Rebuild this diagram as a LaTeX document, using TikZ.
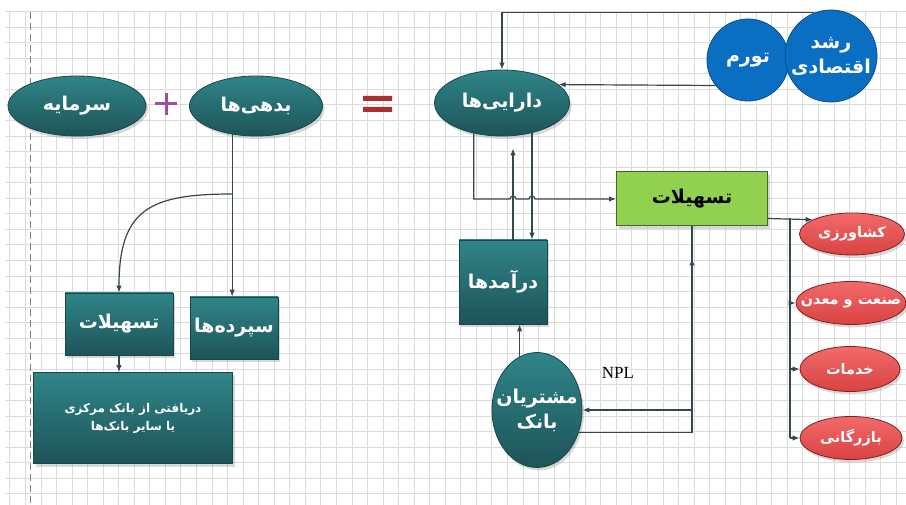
\documentclass[tikz,border=0pt]{standalone}
\usepackage{fontspec}
\setmainfont{Liberation Serif}
\newfontfamily\farsi[Script=Arabic]{DejaVu Sans}
\usetikzlibrary{positioning,shapes.geometric,arrows.meta,calc,shadows}
\TeXXeTstate=1
\newcommand{\pers}[1]{{\farsi\beginR #1\endR}}
\definecolor{gridgray}{HTML}{DCDCDC}
\definecolor{linkgray}{HTML}{34474F}
\definecolor{tealtop}{HTML}{2F8589}
\definecolor{tealbot}{HTML}{1E5458}
\definecolor{tealedge}{HTML}{17474A}
\definecolor{bluefill}{HTML}{0A6FC2}
\definecolor{blueedge}{HTML}{0B4F8A}
\definecolor{greenfill}{HTML}{92D050}
\definecolor{greenedge}{HTML}{44662A}
\definecolor{redtop}{HTML}{F26A6A}
\definecolor{redbot}{HTML}{D94242}
\definecolor{rededge}{HTML}{7F2020}
\definecolor{plusviolet}{HTML}{A0509A}
\definecolor{eqred}{HTML}{A8302E}
\tikzset{
	gridline/.style={draw=gridgray,line width=0.6pt},
	plainlink/.style={draw=linkgray,line width=1.2pt},
	link/.style={plainlink,-{Latex[length=7pt,width=5.5pt]}},
	shade/.style={drop shadow={opacity=0.3,shadow xshift=2pt,shadow yshift=-3pt}},
	tealoval/.style={ellipse,draw=tealedge,line width=0.8pt,top color=tealtop,bottom color=tealbot,text=white,shade,inner xsep=-12pt,inner ysep=0pt,font=\farsi\bfseries\fontsize{19}{25}\selectfont},
	tealbox/.style={rectangle,draw=tealedge,line width=0.8pt,top color=tealtop,bottom color=tealbot,text=white,shade,inner sep=0pt,font=\farsi\bfseries\fontsize{19}{24}\selectfont},
	bluecircle/.style={circle,draw=blueedge,line width=0.8pt,fill=bluefill,text=white,inner sep=-5pt,font=\farsi\bfseries\fontsize{19}{25}\selectfont},
	greenbox/.style={rectangle,draw=greenedge,line width=1pt,fill=greenfill,text=black,shade,inner sep=0pt,font=\farsi\bfseries\fontsize{19}{24}\selectfont},
	redoval/.style={ellipse,draw=rededge,line width=0.8pt,top color=redtop,bottom color=redbot,text=white,shade,inner xsep=-26pt,inner ysep=0pt,font=\farsi\bfseries\fontsize{14.5}{18}\selectfont}
}
\begin{document}
\begin{tikzpicture}[x=1pt,y=-1pt]
		\useasboundingbox (0,0) rectangle (906,505);
		\fill[white] (0,0) rectangle (906,505);
		\foreach \i in {0,...,57}
		\draw[gridline] (9.7+15.55*\i,11.5) -- (9.7+15.55*\i,505);
		\foreach \j in {0,...,31}
		\draw[gridline] (5,11.5+15.55*\j) -- (906,11.5+15.55*\j);
		\draw[gray,line width=0.8pt,dash pattern=on 7pt off 4pt] (30,12) -- (30,505);
		\node[tealoval,minimum width=138pt,minimum height=60pt] (capital) at (77,106) {\pers{سرمایه}};
		\node[tealoval,minimum width=133pt,minimum height=60pt] (debts) at (256,106) {\pers{بدهی‌ها}};
		\node[tealoval,minimum width=135pt,minimum height=66pt] (assets) at (502,103) {\pers{دارایی‌ها}};
		\draw[plusviolet,line width=3pt] (155,104) -- (177,104) (166,93) -- (166,115);
		\fill[eqred] (363,96) rectangle (392,101) (363,107) rectangle (392,112);
		\node[tealbox,minimum width=108pt,minimum height=62pt] (loansL) at (119,324) {\pers{تسهیلات}};
		\node[tealbox,minimum width=88pt,minimum height=62pt] (deposits) at (234,328) {\pers{سپرده‌ها}};
		\node[tealbox,minimum width=199pt,minimum height=91pt,align=center,font=\farsi\bfseries\fontsize{12}{18}\selectfont] (central) at (133,418) {\pers{دریافتی از بانک مرکزی}\\\pers{یا سایر بانک‌ها}};
		\node[tealbox,minimum width=88pt,minimum height=84pt] (income) at (503,282) {\pers{درآمدها}};
		\node[tealoval,minimum width=90pt,minimum height=115pt,align=center] (customers) at (537,410) {\pers{مشتریان}\\\pers{بانک}};
		\node[greenbox,minimum width=151pt,minimum height=54pt] (loansG) at (692,199) {\pers{تسهیلات}};
		\node[bluecircle,minimum size=82pt] (inflation) at (748,60) {\pers{تورم}};
		\node[bluecircle,minimum size=92pt,align=center] (growth) at (831,56) {\pers{رشد}\\\pers{اقتصادی}};
		\node[redoval,minimum width=105pt,minimum height=42pt] (agri) at (852,234) {\pers{کشاورزی}};
		\node[redoval,minimum width=110pt,minimum height=43pt] (industry) at (851,303) {\pers{صنعت و معدن}};
		\node[redoval,minimum width=100pt,minimum height=45pt] (services) at (850,369) {\pers{خدمات}};
		\node[redoval,minimum width=102pt,minimum height=43pt] (trade) at (851,438) {\pers{بازرگانی}};
		\node[font=\fontsize{17}{20}\selectfont] (npl) at (618,373) {NPL};
		\coordinate (split) at (debts.230 |- 0,194);
		\coordinate (upline) at ($(income.north)+(10,0)$);
		\coordinate (downline) at ($(income.north)+(29,0)$);
		\coordinate (fork) at ($(loansG.south east)+(22,-8)$);
		\draw[link] (growth.111) -| (assets.north);
		\draw[link] (inflation.218) -- (assets.18);
		\draw[link] (debts.230) -- (debts.230 |- deposits.north);
		\draw[link] (split) .. controls +(-83,0) and +(0,-83) .. (loansL.north);
		\draw[link] (loansL.south) -- (loansL.south |- central.north);
		\draw[link] (assets.227) |- ($(upline |- loansG.west)+(-3,0)$) arc[start angle=180,end angle=0,radius=3pt] -- ($(downline |- loansG.west)+(-3,0)$) arc[start angle=180,end angle=0,radius=3pt] -- (loansG.west);
		\draw[link] (upline) -- ($(assets.south -| upline)+(0,12)$);
		\draw[link] (assets.-45) -- (assets.-45 |- income.north);
		\draw[link] (customers.108) -- (customers.108 |- income.south);
		\draw[link] (loansG.south) |- (customers.east);
		\draw[link] (customers.-28) -| ($(loansG.south)+(0,32)$);
		\draw[link] (fork -| loansG.east) -- (agri.160);
		\draw[plainlink] (fork) -- (fork |- trade.west);
		\foreach \s in {industry,services,trade}
		\draw[link] (fork |- \s.west) -- (\s.west);
	\end{tikzpicture}
\end{document}
